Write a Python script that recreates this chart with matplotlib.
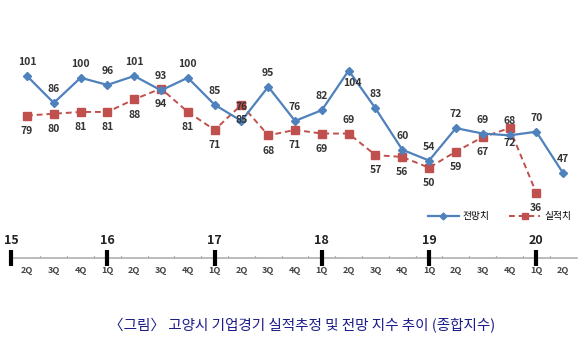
import matplotlib.pyplot as plt
from matplotlib.lines import Line2D

plt.rcParams['font.family'] = ['Noto Sans CJK KR', 'DejaVu Sans']

quarters = ['2Q', '3Q', '4Q',
            '1Q', '2Q', '3Q', '4Q',
            '1Q', '2Q', '3Q', '4Q',
            '1Q', '2Q', '3Q', '4Q',
            '1Q', '2Q', '3Q', '4Q',
            '1Q', '2Q']
years = ['15', '16', '17', '18', '19', '20']
year_pos = [-0.6, 3, 7, 11, 15, 19]

forecast = [101, 86, 100, 96, 101, 93, 100, 85, 76, 95, 76, 82, 104, 83, 60, 54, 72, 69, 68, 70, 47]
actual = [79, 80, 81, 81, 88, 94, 81, 71, 85, 68, 71, 69, 69, 57, 56, 50, 59, 67, 72, 36]
actual_above = [12]  # label placed above the point

blue = '#4F81BD'
red = '#C0504D'

fig = plt.figure(figsize=(5.8, 3.52), dpi=100)
W, H = 580, 352
xlim = (-1.007, 20.63)

# main chart
ax = fig.add_axes([0, (H - 230) / H, 1, 230 / H])
ax.set_xlim(*xlim)
ax.set_ylim(15.4, 143.2)
ax.axis('off')

x_f = list(range(len(forecast)))
x_a = list(range(len(actual)))
ax.plot(x_f, forecast, color=blue, lw=1.6, marker='D', ms=4.5, label='전망치', zorder=3)
ax.plot(x_a, actual, color=red, lw=1.4, ls=(0, (3, 2)), marker='s', ms=6, label='실적치', zorder=2)

for i, v in enumerate(forecast):
    if v == 104:
        ax.annotate(str(v), (i, v), xytext=(3, -9), textcoords='offset points',
                    ha='center', va='center', fontsize=7.5, fontweight='bold', color='#333333')
        continue
    ax.annotate(str(v), (i, v), xytext=(0, 10), textcoords='offset points',
                ha='center', va='center', fontsize=7.5, fontweight='bold', color='#333333')
for i, v in enumerate(actual):
    dy = 10 if i in actual_above else -11
    ax.annotate(str(v), (i, v), xytext=(0, dy), textcoords='offset points',
                ha='center', va='center', fontsize=7.5, fontweight='bold', color='#333333')

handles = [Line2D([], [], color=blue, lw=1.6, marker='D', ms=3.5),
           Line2D([], [], color=red, lw=1.4, ls=(0, (3, 2)), marker='s', ms=5)]
ax.legend(handles, ['전망치', '실적치'], ncol=2, frameon=False, fontsize=7,
          loc='center right', bbox_to_anchor=(1.0, (230 - 216) / 230),
          handlelength=3.2, columnspacing=2.0, handletextpad=0.4)

# timeline axis
tx = fig.add_axes([0, (H - 290) / H, 1, 60 / H])
tx.set_xlim(*xlim)
tx.set_ylim(290, 230)
tx.axis('off')
tx.plot([-0.6, 20.5], [258, 258], color='#b0b0b0', lw=1.2, zorder=1)
for k in range(len(quarters) - 1):
    tx.plot([k + 0.5, k + 0.5], [256, 258], color='#b0b0b0', lw=0.8)
for k, q in enumerate(quarters):
    tx.text(k, 270, q, ha='center', va='center', fontsize=6.5, fontweight='bold', color='#444444')
for p, yr in zip(year_pos, years):
    tx.plot([p, p], [250, 266], color='black', lw=3, solid_capstyle='butt', zorder=3)
    tx.text(p, 240, yr, ha='center', va='center', fontsize=9, fontweight='bold', color='#222222')

fig.text(302 / W, 1 - 326 / H, '〈그림〉 고양시 기업경기 실적추정 및 전망 지수 추이 (종합지수)',
         ha='center', va='center', fontsize=10.5, color='#1c1c8a')

fig.savefig('out.png', dpi=100)
